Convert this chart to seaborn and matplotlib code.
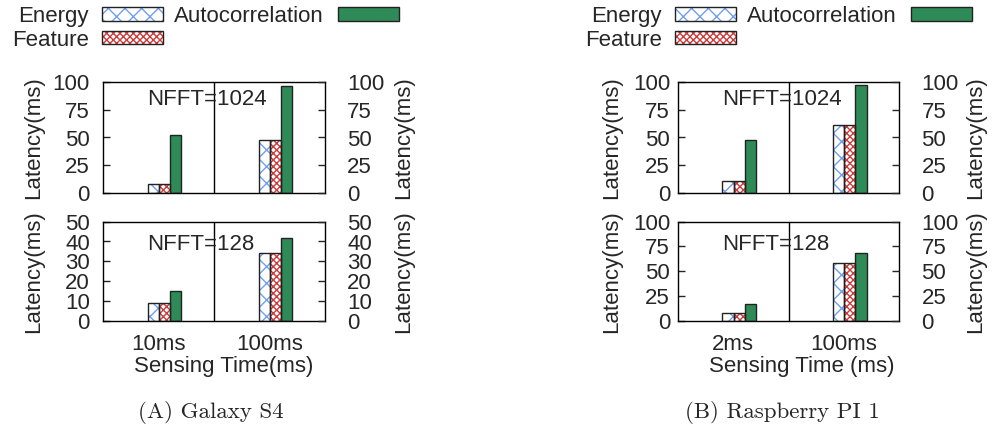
import numpy as np
import pandas as pd
import matplotlib
matplotlib.use("Agg")
import matplotlib.pyplot as plt
import seaborn as sns
from matplotlib.patches import Patch, Rectangle

# ---------------- data ----------------
methods = ["Energy", "Feature", "Autocorrelation"]

s4_times = ["10ms", "100ms"]
s4_1024_energy = [8, 48]
s4_1024_feature = [8, 48]
s4_1024_autocorr = [52, 96]
s4_128_energy = [9, 34]
s4_128_feature = [9, 34]
s4_128_autocorr = [15, 42]

pi_times = ["2ms", "100ms"]
pi_1024_energy = [11, 61]
pi_1024_feature = [11, 61]
pi_1024_autocorr = [48, 97]
pi_128_energy = [8, 58]
pi_128_feature = [8, 58]
pi_128_autocorr = [17, 68]

s4_top_ticks = [0, 25, 50, 75, 100]
s4_bot_ticks = [0, 10, 20, 30, 40, 50]
pi_top_ticks = [0, 25, 50, 75, 100]
pi_bot_ticks = [0, 25, 50, 75, 100]

captions = ["(A) Galaxy S4", "(B) Raspberry PI 1"]
xlabels = ["Sensing Time(ms)", "Sensing Time (ms)"]

# ---------------- style ----------------
sns.set_style("white")
FS = 16
plt.rcParams["font.family"] = ["Liberation Sans", "DejaVu Sans"]
plt.rcParams["font.size"] = FS
plt.rcParams["hatch.linewidth"] = 1.0

BLUE = "#6f9ff0"
RED = "#cc3b3b"
GREEN = "#2e8b57"
styles = {
    "Energy": dict(face="white", hatchcolor=BLUE, hatch="xx"),
    "Feature": dict(face="white", hatchcolor=RED, hatch="xxxxx"),
    "Autocorrelation": dict(face=GREEN, hatchcolor=GREEN, hatch=None),
}

W, H = 993, 436
fig = plt.figure(figsize=(W / 100, H / 100), dpi=100)


def px_axes(left, right, top, bottom):
    return fig.add_axes([left / W, (H - bottom) / H, (right - left) / W, (bottom - top) / H])


OFF = 0.054  # group offset relative to tick (gnuplot-like clustering)


def draw(ax, times, e, f, a, ticks, label, show_x, left_pad, ylab_x, rylab_x, xlab_x, xlabel):
    df = pd.DataFrame({
        "time": times * 3,
        "method": [m for m in methods for _ in times],
        "latency": list(e) + list(f) + list(a),
    })
    sns.barplot(data=df, x="time", y="latency", hue="method", order=times,
                hue_order=methods, width=0.3, saturation=1, legend=False,
                palette=[GREEN, GREEN, GREEN], ax=ax, errorbar=None)
    for cont, m in zip(ax.containers, methods):
        st = styles[m]
        for p in cont:
            p.set_facecolor(st["face"])
            p.set_edgecolor(st["hatchcolor"])
            p.set_linewidth(0)
            if st["hatch"]:
                p.set_hatch(st["hatch"])
            ax.add_patch(Rectangle(p.get_xy(), p.get_width(), p.get_height(),
                                   fill=False, edgecolor="#222222", lw=1.0, zorder=3))
    ax.set_xlim(-0.5 - OFF, 1.5 - OFF)
    ax.axvline(0.5 - OFF, color="black", lw=1.0)
    ax.set_ylim(ticks[0], ticks[-1])
    ax.set_yticks(ticks)
    ax.set_xticks([0 - OFF, 1 - OFF])
    if show_x:
        ax.set_xticklabels(times)
        ax.set_xlabel(xlabel)
        ax.xaxis.set_label_coords(xlab_x, -0.355)
    else:
        ax.set_xticklabels([])
        ax.set_xlabel("")
    ax.tick_params(axis="x", length=0, pad=9.5)
    ax.tick_params(axis="y", direction="in", length=5, width=1, pad=left_pad, labelsize=FS)
    ax.set_ylabel("Latency(ms)")
    ax.yaxis.set_label_coords(ylab_x, 0.5)
    for s in ax.spines.values():
        s.set_color("black")
        s.set_linewidth(1.0)
        s.set_visible(True)
    ax.text(0.2, 0.84 if not show_x else 0.77, label, transform=ax.transAxes,
            ha="left", va="center", fontsize=FS)
    ax2 = ax.twinx()
    ax2.set_ylim(ticks[0], ticks[-1])
    ax2.set_yticks(ticks)
    ax2.tick_params(axis="y", direction="in", length=5, width=1, pad=16, labelsize=FS)
    ax2.set_ylabel("Latency(ms)", rotation=90)
    ax2.yaxis.set_label_coords(rylab_x, 0.5)
    for s in ax2.spines.values():
        s.set_visible(False)


# panel A
axA1 = px_axes(103, 325, 82, 193)
axA2 = px_axes(103, 325, 221.7, 320.7)
draw(axA1, s4_times, s4_1024_energy, s4_1024_feature, s4_1024_autocorr, s4_top_ticks,
     "NFFT=1024", False, 9.5, -0.264, 1.306, 0.545, xlabels[0])
draw(axA2, s4_times, s4_128_energy, s4_128_feature, s4_128_autocorr, s4_bot_ticks,
     "NFFT=128", True, 9.5, -0.264, 1.306, 0.545, xlabels[0])

# panel B
axB1 = px_axes(677.7, 899.3, 82, 193)
axB2 = px_axes(677.7, 899.3, 221.7, 320.7)
draw(axB1, pi_times, pi_1024_energy, pi_1024_feature, pi_1024_autocorr, pi_top_ticks,
     "NFFT=1024", False, 5.5, -0.251, 1.296, 0.561, xlabels[1])
draw(axB2, pi_times, pi_128_energy, pi_128_feature, pi_128_autocorr, pi_bot_ticks,
     "NFFT=128", True, 5.5, -0.251, 1.296, 0.561, xlabels[1])

# legends
def handles():
    hs = []
    for m in methods:
        st = styles[m]
        fillp = Patch(facecolor=st["face"], edgecolor=st["hatchcolor"], hatch=st["hatch"], lw=0)
        outl = Patch(fill=False, edgecolor="#222222", lw=1.0)
        hs.append((fillp, outl))
    return hs

for lx in (12, 585):
    fig.legend(handles(), methods, ncol=2, markerfirst=False, loc="upper left",
               bbox_to_anchor=(lx / W, (H - 6) / H), frameon=False, borderpad=0,
               borderaxespad=0, handlelength=2.75, handleheight=0.55,
               handletextpad=0.6, columnspacing=0.5, labelspacing=0.12, fontsize=FS)

# captions
for cx, cap in zip((138, 685), captions):
    fig.text(cx / W, (H - 418) / H, cap, family=["cmr10", "DejaVu Serif"], fontsize=16.5,
             ha="left", va="baseline")

fig.savefig("out.png", dpi=100)
